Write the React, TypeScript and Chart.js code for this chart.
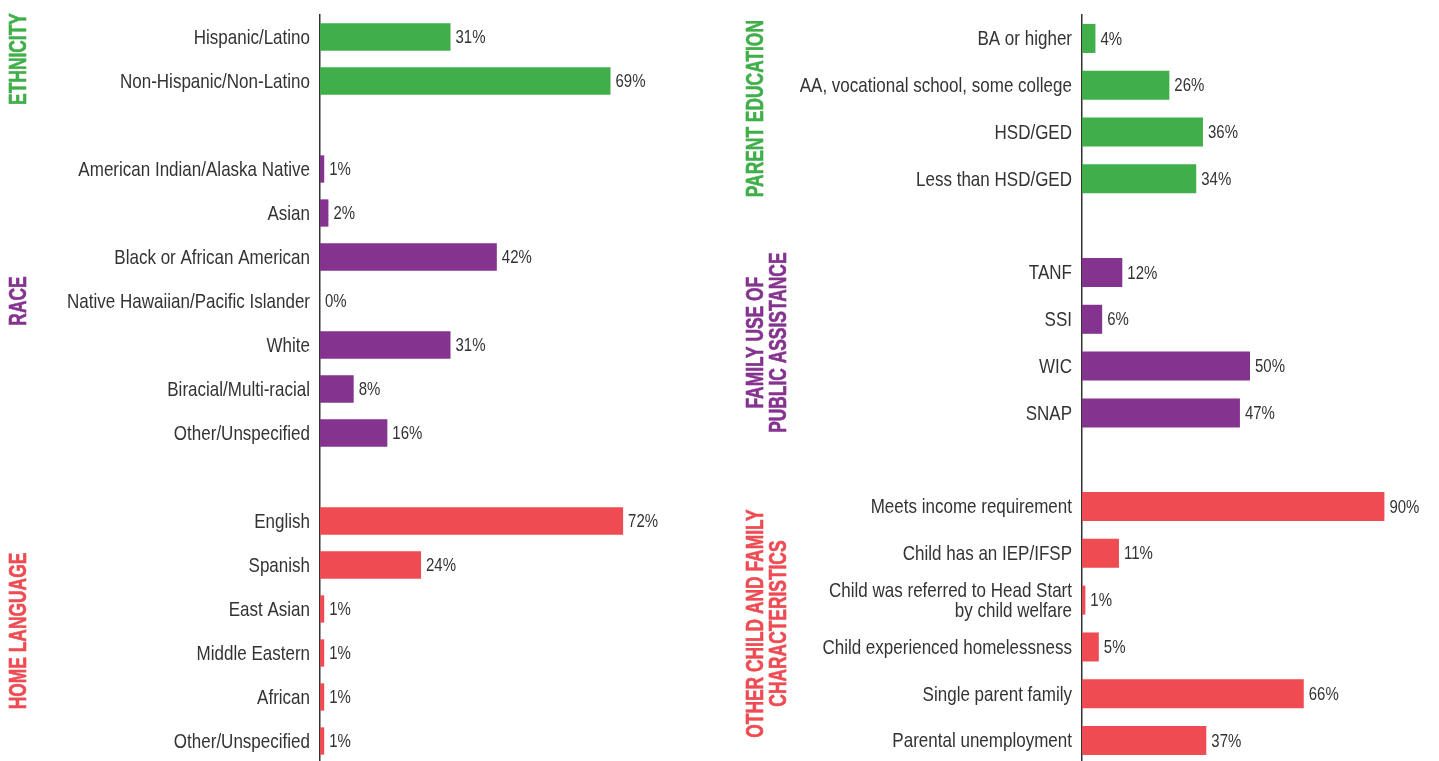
import React, { useEffect, useRef } from "react";
import { Chart, registerables } from "chart.js";

Chart.register(...registerables);

// ---------- data ----------
const ethnicityLabels = ["Hispanic/Latino", "Non-Hispanic/Non-Latino"];
const ethnicityValues = [31, 69];

const raceLabels = [
  "American Indian/Alaska Native",
  "Asian",
  "Black or African American",
  "Native Hawaiian/Pacific Islander",
  "White",
  "Biracial/Multi-racial",
  "Other/Unspecified",
];
const raceValues = [1, 2, 42, 0, 31, 8, 16];

const languageLabels = ["English", "Spanish", "East Asian", "Middle Eastern", "African", "Other/Unspecified"];
const languageValues = [72, 24, 1, 1, 1, 1];

const educationLabels = ["BA or higher", "AA, vocational school, some college", "HSD/GED", "Less than HSD/GED"];
const educationValues = [4, 26, 36, 34];

const assistanceLabels = ["TANF", "SSI", "WIC", "SNAP"];
const assistanceValues = [12, 6, 50, 47];

const otherLabels: (string | string[])[] = [
  "Meets income requirement",
  "Child has an IEP/IFSP",
  ["Child was referred to Head Start", "by child welfare"],
  "Child experienced homelessness",
  "Single parent family",
  "Parental unemployment",
];
const otherValues = [90, 11, 1, 5, 66, 37];

const GREEN = "#40AE49";
const PURPLE = "#84338F";
const RED = "#EF4B52";
const TEXT = "#333333";
const FONT = "'Liberation Sans', Arial, sans-serif";

type Group = { title: string[]; color: string; labels: (string | string[])[]; values: number[] };

const leftGroups: Group[] = [
  { title: ["ETHNICITY"], color: GREEN, labels: ethnicityLabels, values: ethnicityValues },
  { title: ["RACE"], color: PURPLE, labels: raceLabels, values: raceValues },
  { title: ["HOME LANGUAGE"], color: RED, labels: languageLabels, values: languageValues },
];

const rightGroups: Group[] = [
  { title: ["PARENT EDUCATION"], color: GREEN, labels: educationLabels, values: educationValues },
  { title: ["FAMILY USE OF", "PUBLIC ASSISTANCE"], color: PURPLE, labels: assistanceLabels, values: assistanceValues },
  { title: ["OTHER CHILD AND FAMILY", "CHARACTERISTICS"], color: RED, labels: otherLabels, values: otherValues },
];

function build(groups: Group[]) {
  const labels: (string | string[])[] = [];
  const values: (number | null)[] = [];
  const colors: string[] = [];
  const ranges: { title: string[]; color: string; start: number; end: number }[] = [];
  groups.forEach((g, gi) => {
    if (gi > 0) {
      labels.push("");
      values.push(null);
      colors.push("transparent");
    }
    const start = labels.length;
    g.labels.forEach((l, i) => {
      labels.push(l);
      values.push(g.values[i]);
      colors.push(g.color);
    });
    ranges.push({ title: g.title, color: g.color, start, end: labels.length - 1 });
  });
  return { labels, values, colors, ranges };
}

// draw horizontally condensed text (mimics the narrow typeface of the original)
function narrowText(
  ctx: CanvasRenderingContext2D,
  text: string,
  x: number,
  y: number,
  align: CanvasTextAlign,
  sx: number
) {
  ctx.save();
  ctx.translate(x, y);
  ctx.scale(sx, 1);
  ctx.textAlign = align;
  ctx.fillText(text, 0, 0);
  ctx.restore();
}

type PanelProps = {
  groups: Group[];
  left: number;
  width: number;
  height: number;
  axisWidth: number;
  padRight: number;
  titleX: number;
};

function Panel({ groups, left, width, height, axisWidth, padRight, titleX }: PanelProps) {
  const ref = useRef<HTMLCanvasElement | null>(null);

  useEffect(() => {
    if (!ref.current) return;
    const { labels, values, colors, ranges } = build(groups);

    const rowLabels = {
      id: "rowLabels",
      afterDraw(chart: any) {
        const ctx = chart.ctx;
        const y = chart.scales.y;
        const x = chart.chartArea.left - 10;
        ctx.save();
        ctx.font = `400 21px ${FONT}`;
        ctx.fillStyle = TEXT;
        ctx.textBaseline = "middle";
        labels.forEach((lab, i) => {
          const lines = Array.isArray(lab) ? lab : [lab];
          if (!lines.length || lines[0] === "") return;
          const cy = y.getPixelForValue(i) + 1;
          const lh = 20.5;
          const top = cy - ((lines.length - 1) * lh) / 2;
          lines.forEach((ln, li) => narrowText(ctx, ln, x, top + li * lh, "right", 0.81));
        });
        ctx.restore();
      },
    };

    const valueLabels = {
      id: "valueLabels",
      afterDatasetsDraw(chart: any) {
        const ctx = chart.ctx;
        const meta = chart.getDatasetMeta(0);
        ctx.save();
        ctx.font = `400 18.5px ${FONT}`;
        ctx.fillStyle = TEXT;
        ctx.textBaseline = "middle";
        meta.data.forEach((bar: any, i: number) => {
          const v = values[i];
          if (v === null || v === undefined) return;
          narrowText(ctx, `${v}%`, bar.x + 5, bar.y + 1, "left", 0.81);
        });
        ctx.restore();
      },
    };

    const groupTitles = {
      id: "groupTitles",
      afterDraw(chart: any) {
        const ctx = chart.ctx;
        const y = chart.scales.y;
        ctx.save();
        ctx.font = `700 23.5px ${FONT}`;
        ctx.textAlign = "center";
        ctx.textBaseline = "middle";
        ctx.lineJoin = "round";
        ranges.forEach((r) => {
          const cy = (y.getPixelForValue(r.start) + y.getPixelForValue(r.end)) / 2;
          ctx.save();
          ctx.translate(titleX, cy);
          ctx.rotate(-Math.PI / 2);
          ctx.scale(0.74, 1);
          ctx.fillStyle = r.color;
          ctx.strokeStyle = r.color;
          ctx.lineWidth = 0.6;
          r.title.forEach((line, li) => {
            ctx.fillText(line, 0, li * 23 + 1);
            ctx.strokeText(line, 0, li * 23 + 1);
          });
          ctx.restore();
        });
        ctx.restore();
      },
    };

    const chart = new Chart(ref.current, {
      type: "bar",
      data: {
        labels,
        datasets: [
          {
            data: values,
            backgroundColor: colors,
            borderWidth: 0,
            categoryPercentage: 1,
            barPercentage: 0.62,
          },
        ],
      },
      options: {
        indexAxis: "y",
        animation: false,
        responsive: false,
        devicePixelRatio: 1,
        layout: { padding: { top: 15, right: padRight, bottom: 0, left: 0 } },
        plugins: { legend: { display: false }, tooltip: { enabled: false } },
        scales: {
          x: { display: false, min: 0, max: 100 },
          y: {
            grid: { display: false, drawTicks: false },
            border: { display: true, color: TEXT, width: 1.5 },
            ticks: { display: false },
            afterFit(scale: any) {
              scale.width = axisWidth;
            },
          },
        },
      },
      plugins: [rowLabels, valueLabels, groupTitles],
    } as any);

    return () => chart.destroy();
  }, [groups, axisWidth, padRight, titleX]);

  return (
    <canvas
      ref={ref}
      width={width}
      height={height}
      style={{ position: "absolute", left, top: 0, width, height, display: "block" }}
    />
  );
}

export default function App() {
  return (
    <div
      style={{
        position: "fixed",
        top: 0,
        left: 0,
        width: 1439,
        height: 761,
        overflow: "hidden",
        background: "#ffffff",
      }}
    >
      <Panel groups={leftGroups} left={0} width={745} height={763} axisWidth={320} padRight={4} titleX={18.5} />
      <Panel groups={rightGroups} left={720} width={719} height={764} axisWidth={362} padRight={21} titleX={36} />
    </div>
  );
}
